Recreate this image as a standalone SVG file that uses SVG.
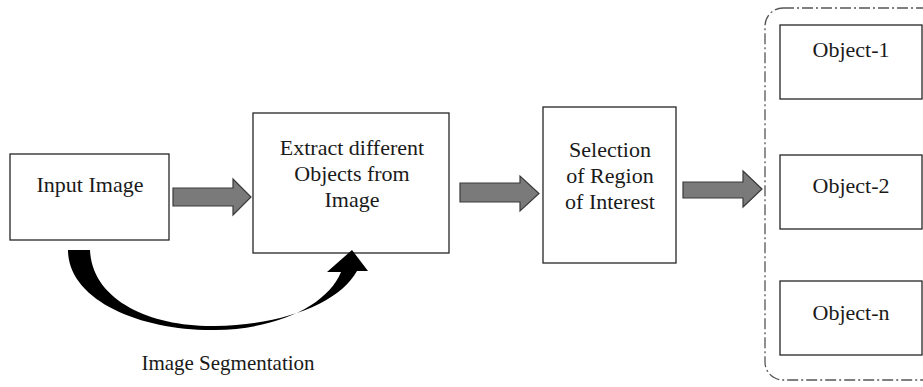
<svg xmlns="http://www.w3.org/2000/svg" width="923" height="387" viewBox="0 0 923 387">
  <style>
    .box { fill: #ffffff; stroke: #262626; stroke-width: 1.3; }
    .lbl { font-family: "Liberation Serif", "Times New Roman", serif; font-size: 22px; fill: #1a1a1a; text-anchor: middle; }
    .flow { fill: #7a7a7a; stroke: #3a3a3a; stroke-width: 1.2; stroke-linejoin: miter; }
    .group { fill: none; stroke: #555555; stroke-width: 1.3; stroke-dasharray: 11 3 2 3; }
  </style>
  <rect width="923" height="387" fill="#ffffff"/>

  <!-- dash-dot container holding the object boxes -->
  <rect id="objects-group" class="group" x="765" y="8" width="180" height="372" rx="18" ry="18"/>

  <g id="input-image">
    <rect class="box" x="10" y="154" width="159" height="86"/>
    <text class="lbl" x="90" y="192">Input Image</text>
  </g>

  <g id="extract-objects">
    <rect class="box" x="253" y="113" width="196" height="140"/>
    <text class="lbl" x="352" y="155">Extract different</text>
    <text class="lbl" x="352" y="181">Objects from</text>
    <text class="lbl" x="352" y="207">Image</text>
  </g>

  <g id="select-roi">
    <rect class="box" x="543" y="107" width="133" height="156"/>
    <text class="lbl" x="610" y="157">Selection</text>
    <text class="lbl" x="610" y="183">of Region</text>
    <text class="lbl" x="610" y="209">of Interest</text>
  </g>

  <g id="object-1">
    <rect class="box" x="780" y="25" width="142" height="74"/>
    <text class="lbl" x="851" y="57">Object-1</text>
  </g>

  <g id="object-2">
    <rect class="box" x="780" y="155" width="142" height="74"/>
    <text class="lbl" x="851" y="193">Object-2</text>
  </g>

  <g id="object-n">
    <rect class="box" x="780" y="281" width="142" height="74"/>
    <text class="lbl" x="851" y="320">Object-n</text>
  </g>

  <g id="connectors">
    <!-- block arrows between stages -->
    <polygon class="flow" points="173,188 233,188 233,179 251,197 233,215 233,206 173,206"/>
    <polygon class="flow" points="460,183 520,183 520,176 539,193.5 520,211 520,202 460,202"/>
    <polygon class="flow" points="683,182 743,182 743,171 762,189 743,207 743,198 683,198"/>

    <!-- curved segmentation arrow -->
    <path fill="#000000" d="M68,250 C68,300 140,331 215,330 C280,329 328,304 341,272 L327,272 L352,250 L368,271 L357,271 C340,302 285,325 215,326 C150,327 92,300 90,250 Z"/>
    <text class="lbl" x="228" y="370" style="font-size:21px">Image Segmentation</text>
  </g>
</svg>
